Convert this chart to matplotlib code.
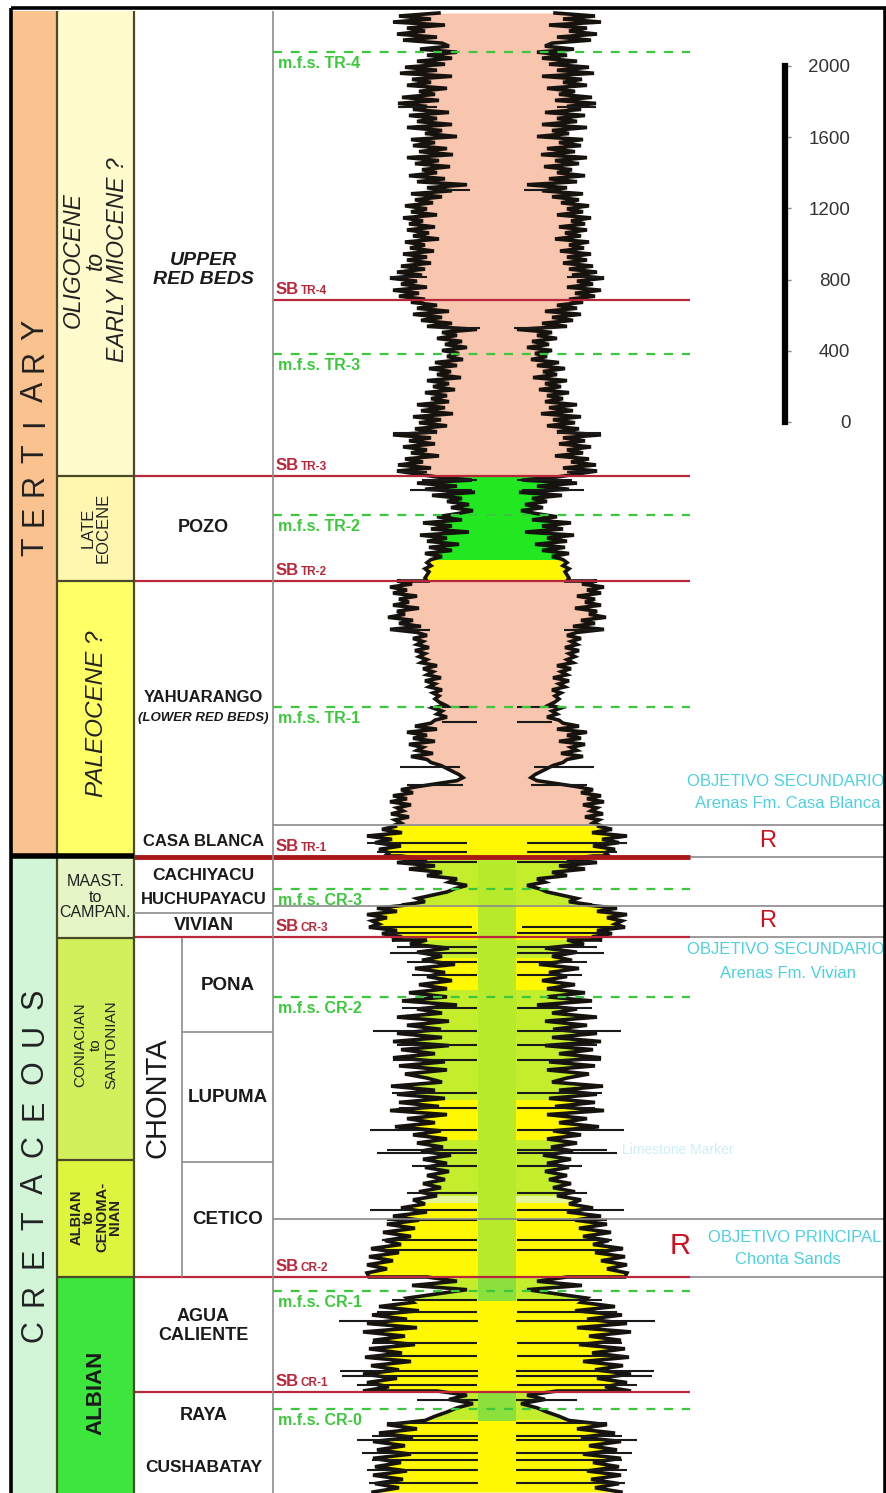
import numpy as np
import matplotlib
matplotlib.use("Agg")
import matplotlib.pyplot as plt
from matplotlib.patches import Rectangle

NARROW = ["Liberation Sans Narrow", "Liberation Sans", "DejaVu Sans"]
ARIAL = ["Liberation Sans", "DejaVu Sans"]

# ---------------- stratigraphic framework (depth in chart units) ----------------
era_names = ["TERTIARY", "CRETACEOUS"]
era_top = [11, 856]
era_base = [856, 1493]
era_colors = ["#F9C28F", "#D2F5D8"]

epoch_labels = ["OLIGOCENE\nto\nEARLY MIOCENE ?", "LATE\nEOCENE", "PALEOCENE ?",
                "MAAST.\nto\nCAMPAN.", "CONIACIAN\nto\nSANTONIAN",
                "ALBIAN\nto\nCENOMA-\nNIAN", "ALBIAN"]
epoch_top = [11, 476, 581, 856, 938, 1160, 1277]
epoch_base = [476, 581, 856, 938, 1160, 1277, 1493]
epoch_colors = ["#FFFBCC", "#FFF7B0", "#FFFF66", "#E6F5C6", "#D2EF5C", "#DDF53C", "#3CE63C"]

formation_labels = ["UPPER\nRED BEDS", "POZO", "YAHUARANGO", "(LOWER RED BEDS)", "CASA BLANCA",
                    "CACHIYACU", "HUCHUPAYACU", "VIVIAN", "AGUA\nCALIENTE", "RAYA", "CUSHABATAY"]
formation_depth = [270, 528, 698, 718, 841, 875, 899, 925, 1326, 1416, 1467]
formation_size = [14, 13, 12, 9.5, 12, 12.5, 12, 13, 13, 13, 12.5]

chonta_members = ["PONA", "LUPUMA", "CETICO"]
chonta_top = [938, 1032, 1162]
chonta_base = [1032, 1162, 1277]
chonta_label_depth = [985, 1098, 1220]

# sequence boundaries and maximum flooding surfaces
sb_names = ["TR-4", "TR-3", "TR-2", "TR-1", "CR-3", "CR-2", "CR-1"]
sb_depth = [300, 476, 581, 857, 937, 1277, 1392]
mfs_names = ["TR-4", "TR-3", "TR-2", "TR-1", "CR-3", "CR-2", "CR-1", "CR-0"]
mfs_depth = [52, 354, 515, 707, 889, 997, 1291, 1409]

# reservoir targets
res_top = [825, 906, 1219]
res_base = [857, 937, 1277]
res_title = ["OBJETIVO SECUNDARIO", "OBJETIVO SECUNDARIO", "OBJETIVO PRINCIPAL"]
res_sub = ["Arenas Fm. Casa Blanca", "Arenas Fm. Vivian", "Chonta Sands"]

# ---------------- gamma-ray style log (half-width of mirrored trace) ----------------
sec_top = [13, 477, 581, 826, 856, 905, 940, 1277, 1391]
sec_base = [474, 581, 826, 856, 905, 940, 1277, 1391, 1492]
gr_upper_red_beds = [58, 98, 66, 104, 52, 90, 72, 100, 60, 94, 55,
                     48, 77, 40, 70, 45,
                     80, 52, 92, 60, 97, 45, 85, 66, 90, 50, 78, 62, 95, 58, 99, 70, 84,
                     48, 88, 60, 80, 45, 90, 55, 72, 40, 86, 62, 84, 50, 78, 44,
                     90, 58, 82, 47, 75, 60, 88, 52, 80, 30, 70, 45, 86, 55, 82,
                     64, 92, 70, 86, 60, 94, 74, 88, 62, 90, 68, 84, 58, 92, 72,
                     87, 63, 94, 70, 90, 66, 96, 72,
                     100, 75, 107, 80, 96, 70, 104, 78, 98, 72,
                     86, 60, 80, 48, 84, 55, 76, 45, 70, 20,
                     55, 40, 60, 35, 52, 30, 55, 38, 50, 34,
                     62, 40, 68, 46, 60, 36, 70, 48, 64, 42, 72, 50, 66,
                     48, 80, 52, 76, 44, 84, 56, 78, 50, 82, 60, 104, 66,
                     88, 62, 94, 70, 86, 58, 92, 74, 99, 66, 100, 80]
gr_pozo = [60, 25, 80, 40, 72, 22, 65, 35,
           50, 28, 46, 24, 40,
           60, 35, 74, 45, 66, 28, 77, 50, 70, 38, 68, 45, 72, 55, 66,
           70, 66, 72, 68, 70, 72, 70]
gr_yahuarango = [100, 85, 107, 90, 104, 80, 98,
                 88, 104, 78, 100, 92, 109, 84, 98, 76, 107,
                 80, 70, 84, 74, 80, 68, 82, 72, 78, 70,
                 76, 60, 74, 64, 70, 56, 72, 62, 68, 55, 64, 58, 62,
                 58, 52, 64, 55, 60, 50, 62,
                 66, 82, 60, 90, 70, 84, 62, 88, 74, 80, 64, 86, 70,
                 66, 56, 50, 44, 38, 34, 40, 60, 80,
                 96, 84, 104, 90, 107, 86, 100, 94, 106, 88, 102, 96, 105]
gr_casa_blanca = [100, 115, 95, 130, 105, 122, 96, 118, 108, 112]
gr_cachiyacu = [96, 70, 100, 62, 88, 55, 70, 40, 48, 30, 42, 50, 65, 80, 72, 95]
gr_vivian = [90, 120, 100, 130, 110, 125, 118, 128, 100, 115, 95, 105]
gr_chonta = [70, 87, 48, 80, 55, 75, 42, 82, 52, 70, 45, 78, 50,
             88, 50, 95, 40, 80, 55, 100, 48, 90, 56,
             100, 55, 104, 48, 96, 62, 104, 52, 98, 50, 92, 70,
             55, 106, 62, 100, 52, 98, 58, 107, 50, 90, 62, 102, 56,
             84, 50, 80, 54, 76, 46, 74, 50, 72, 48, 70, 52, 74, 56, 78, 60, 84,
             72, 96, 70, 104, 78, 110, 82, 114, 86, 112,
             96, 126, 98, 128, 104, 130, 110, 130, 128]
gr_agua_caliente = [70, 40, 85, 30, 60, 90,
                    84, 118, 78, 125, 90, 130, 80, 134, 92, 124, 82, 128, 95, 132,
                    86, 126, 98, 134, 100, 130, 108, 134]
gr_raya_cushabatay = [60, 30, 48, 24, 40, 50, 62,
                      72, 110, 80, 118, 84, 124, 92, 120, 86, 124, 96, 122, 90, 124,
                      94, 122, 98, 124]
sec_vals = [gr_upper_red_beds, gr_pozo, gr_yahuarango, gr_casa_blanca, gr_cachiyacu,
            gr_vivian, gr_chonta, gr_agua_caliente, gr_raya_cushabatay]

# sharp excursions of the log (depth, inner half-width, outer half-width)
spike_depth = [107, 190, 277, 328, 433, 472, 480, 490, 630, 707, 722, 767, 785,
               843, 852, 862, 927, 933, 947, 953, 962, 975, 1008, 1031, 1045, 1060,
               1093, 1108, 1130, 1150, 1153, 1166, 1193, 1210, 1220, 1240, 1250,
               1300, 1312, 1321, 1343, 1356, 1371, 1376, 1385, 1400, 1423, 1436,
               1440, 1453, 1460, 1470, 1483]
spike_inner = [60, 27, 70, 17, 60, 70, 20, 25, 67, 20, 20, 37, 34,
               30, 30, 20, 25, 20, 20, 20, 20, 20, 20, 20, 20, 20,
               20, 20, 20, 20, 20, 20, 20, 20, 20, 20, 20,
               20, 20, 19, 20, 20, 19, 19, 20, 19, 19, 19,
               19, 19, 19, 19, 19]
spike_outer = [99, 57, 107, 57, 104, 100, 75, 87, 107, 67, 55, 97, 90,
               130, 120, 95, 125, 110, 100, 107, 90, 85, 95, 124, 100, 104,
               105, 98, 127, 110, 120, 85, 90, 127, 110, 115, 125,
               105, 120, 158, 125, 130, 157, 155, 140, 80, 110, 125,
               140, 135, 125, 130, 128]

# lithology colour of the log fill
PINK, GREEN, YELLOW, YGREEN, PALE = "#F8C6AE", "#22E822", "#FFF800", "#C4EE2C", "#E6F59A"
fill_top = [11, 476, 560, 581, 826, 856, 905, 940, 958, 990, 1100, 1140, 1196, 1203, 1277, 1300, 1391, 1420]
fill_base = [476, 560, 581, 826, 856, 905, 940, 958, 990, 1100, 1140, 1196, 1203, 1277, 1300, 1391, 1420, 1493]
fill_colors = [PINK, GREEN, YELLOW, PINK, YELLOW, YGREEN, YELLOW, YGREEN, YELLOW, YGREEN,
               YELLOW, YGREEN, PALE, YELLOW, YGREEN, YELLOW, YGREEN, YELLOW]
core_top = [856, 1277, 1391]
core_base = [1277, 1300, 1420]
core_colors = ["#B8EA2C", "#8BE03C", "#8BE03C"]

scale_ticks = [0, 400, 800, 1200, 1600, 2000]

# ---------------- figure ----------------
W, H = 887, 1493
CX = 497
fig = plt.figure(figsize=(W / 100, H / 100), dpi=100)
ax = fig.add_axes([0, 0, 1, 1])
ax.set_xlim(0, W)
ax.set_ylim(H, 0)
ax.axis("off")

X1, X2, X3, X4, XR = 11, 57, 134, 273, 885
XLINE_END = 690

# era column
for t, b, c in zip(era_top, era_base, era_colors):
    ax.add_patch(Rectangle((X1, t), X2 - X1, b - t, color=c, lw=0, zorder=0))
# epoch column
for t, b, c in zip(epoch_top, epoch_base, epoch_colors):
    ax.add_patch(Rectangle((X2, t), X3 - X2, b - t, color=c, lw=0, zorder=0))

# column dividers
ax.vlines([X2, X3], 11, H, color="#4A4A2A", lw=1.6, zorder=5)
ax.vlines([X4], 11, H, color="#8C8C8C", lw=1.2, zorder=5)
ax.hlines(epoch_top[1:], X2, X3, color="#4A4A2A", lw=1.6, zorder=5)
ax.hlines([856], X1, X3, color="black", lw=4, zorder=6)

# formation boundaries inside formation column
ax.hlines([913], X3, X4, color="#8C8C8C", lw=1.2, zorder=5)
ax.vlines([182], 938, 1277, color="#8C8C8C", lw=1.2, zorder=5)
ax.hlines(chonta_top[1:], 182, X4, color="#8C8C8C", lw=1.2, zorder=5)

# reservoir boxes
for t, b in zip(res_top, res_base):
    ax.hlines([t, b], X4, XR, color="#8A8A8A", lw=1.2, zorder=4)

# ---- log ----
depth = np.concatenate([np.linspace(t, b, len(v)) for t, b, v in zip(sec_top, sec_base, sec_vals)])
hw = np.concatenate([np.asarray(v, float) for v in sec_vals])

for t, b, c in zip(fill_top, fill_base, fill_colors):
    poly = ax.fill_betweenx(depth, CX - hw, CX + hw, color=c, lw=0, zorder=1)
    poly.set_clip_path(Rectangle((0, t), W, b - t, transform=ax.transData))
core = np.minimum(hw, 19)
for t, b, c in zip(core_top, core_base, core_colors):
    poly = ax.fill_betweenx(depth, CX - core, CX + core, color=c, lw=0, zorder=1.5)
    poly.set_clip_path(Rectangle((0, t), W, b - t, transform=ax.transData))

for side in (-1, 1):
    ax.plot(CX + side * hw, depth, color="#16130E", lw=2.6, zorder=3,
            solid_joinstyle="miter")
si = np.asarray(spike_inner, float)
so = np.asarray(spike_outer, float)
ax.hlines(spike_depth, CX - so, CX - si, color="#1A1A1A", lw=1.5, zorder=3)
ax.hlines(spike_depth, CX + si, CX + so, color="#1A1A1A", lw=1.5, zorder=3)

# ---- surfaces ----
SB_COLOR = "#B8283A"
for name, d in zip(sb_names, sb_depth):
    x0 = X4 if name == "TR-4" else X3
    thick = name == "TR-1"
    ax.hlines(d, x0, XLINE_END, color="#A81818" if thick else SB_COLOR,
              lw=3.5 if thick else 1.6, zorder=4)
    ax.text(276, d - 3, "SB", color=SB_COLOR, fontsize=12, fontweight="bold",
            family=NARROW, va="bottom", ha="left", zorder=6)
    ax.text(301, d - 3, name, color=SB_COLOR, fontsize=8.5, fontweight="bold",
            family=NARROW, va="bottom", ha="left", zorder=6)

MFS_COLOR = "#3CC83C"
for name, d in zip(mfs_names, mfs_depth):
    ax.hlines(d, X4, XLINE_END, color=MFS_COLOR, lw=1.6, linestyles=(0, (4, 4)), zorder=4)
    ax.text(278, d + 4, "m.f.s. " + name, color=MFS_COLOR, fontsize=11.5, fontweight="bold",
            family=NARROW, va="top", ha="left", zorder=6)

# ---- text: eras ----
for name in era_names:
    step = 31 if name == "TERTIARY" else 37
    mid = 438 if name == "TERTIARY" else 1165
    n = len(name)
    for i, ch in enumerate(name):
        y = mid + (n - 1) / 2 * step - i * step
        ax.text(35, y, ch, rotation=90, fontsize=22, family=ARIAL, color="#222222",
                ha="center", va="center", zorder=6)

# ---- text: epochs ----
xe = (X2 + X3) / 2
ax.text(xe, 260, epoch_labels[0], rotation=90, fontsize=16.5, style="italic", family=ARIAL,
        ha="center", va="center", linespacing=0.95, color="#222222", zorder=6)
ax.text(xe, 528, epoch_labels[1], rotation=90, fontsize=12, family=ARIAL,
        ha="center", va="center", linespacing=1.0, color="#222222", zorder=6)
ax.text(xe + 1, 714, epoch_labels[2], rotation=90, fontsize=17.5, style="italic", family=ARIAL,
        ha="center", va="center", color="#222222", zorder=6)
ax.text(xe, 897, epoch_labels[3], fontsize=11.5, family=NARROW,
        ha="center", va="center", linespacing=1.05, color="#222222", zorder=6)
ax.text(xe, 1045, epoch_labels[4], rotation=90, fontsize=11, family=ARIAL,
        ha="center", va="center", linespacing=1.15, color="#222222", zorder=6)
ax.text(xe, 1217, epoch_labels[5], rotation=90, fontsize=10.5, fontweight="bold", family=ARIAL,
        ha="center", va="center", linespacing=0.9, color="#222222", zorder=6)
ax.text(xe, 1393, epoch_labels[6], rotation=90, fontsize=16, fontweight="bold", family=ARIAL,
        ha="center", va="center", color="#1A1A1A", zorder=6)

# ---- text: formations ----
xf = (X3 + X4) / 2
for lab, d, fs in zip(formation_labels, formation_depth, formation_size):
    italic = lab.startswith("UPPER") or lab.startswith("(LOWER")
    ax.text(xf, d, lab, fontsize=fs, style="italic" if italic else "normal",
            fontweight="bold", family=NARROW, ha="center", va="center",
            color="#1A1A1A", zorder=6, linespacing=1.2)
ax.text(158, 1098, "CHONTA", rotation=90, fontsize=21, family=ARIAL, ha="center",
        va="center", color="#1A1A1A", zorder=6)
for lab, y in zip(chonta_members, chonta_label_depth):
    ax.text((182 + X4) / 2, y, lab, fontsize=13.5, fontweight="bold",
            family=NARROW, ha="center", va="center", color="#1A1A1A", zorder=6)

# ---- reservoir annotations ----
CYAN = "#4FD0E0"
res_r_x = [768, 768, 680]
res_r_y = [841, 921, 1246]
res_title_y = [781, 950, 1237]
res_sub_y = [803, 973, 1260]
res_title_x = [786, 786, 795]
res_r_size = [17, 17, 21]
for rx, ry, tx, ty, sy, ttl, sub, rs in zip(res_r_x, res_r_y, res_title_x, res_title_y,
                                            res_sub_y, res_title, res_sub, res_r_size):
    ax.text(rx, ry, "R", color="#CC1020", fontsize=rs, family=ARIAL,
            ha="center", va="center", zorder=6)
    ax.text(tx, ty, ttl, color=CYAN, fontsize=12, family=NARROW,
            ha="center", va="center", zorder=6)
    ax.text(788, sy, sub, color=CYAN, fontsize=12, family=NARROW, ha="center",
            va="center", zorder=6)
ax.text(622, 1150, "Limestone Marker", color="#CDEFF5", fontsize=10, family=NARROW,
        ha="left", va="center", zorder=6)

# ---- outer frame ----
ax.add_patch(Rectangle((X1, 8), XR - X1, H, fill=False, ec="black", lw=2.6, zorder=7))

# ---- vertical scale bar ----
y_top, y_bot = 66, 422
sax = fig.add_axes([(785 - 10) / W, (H - y_bot) / H, 10 / W, (y_bot - y_top) / H])
sax.set_ylim(0, 2000)
sax.set_xlim(0, 1)
sax.patch.set_alpha(0)
for s in ["left", "top", "bottom"]:
    sax.spines[s].set_visible(False)
sax.spines["right"].set_linewidth(4.5)
sax.spines["right"].set_color("black")
sax.set_xticks([])
sax.yaxis.tick_right()
sax.set_yticks(scale_ticks)
sax.tick_params(axis="y", length=4, width=1, color="#888888", pad=43, labelsize=13.5,
                labelcolor="#333333")
for lbl in sax.get_yticklabels():
    lbl.set_horizontalalignment("right")
    lbl.set_family(ARIAL)

fig.savefig("out.png", dpi=100)
